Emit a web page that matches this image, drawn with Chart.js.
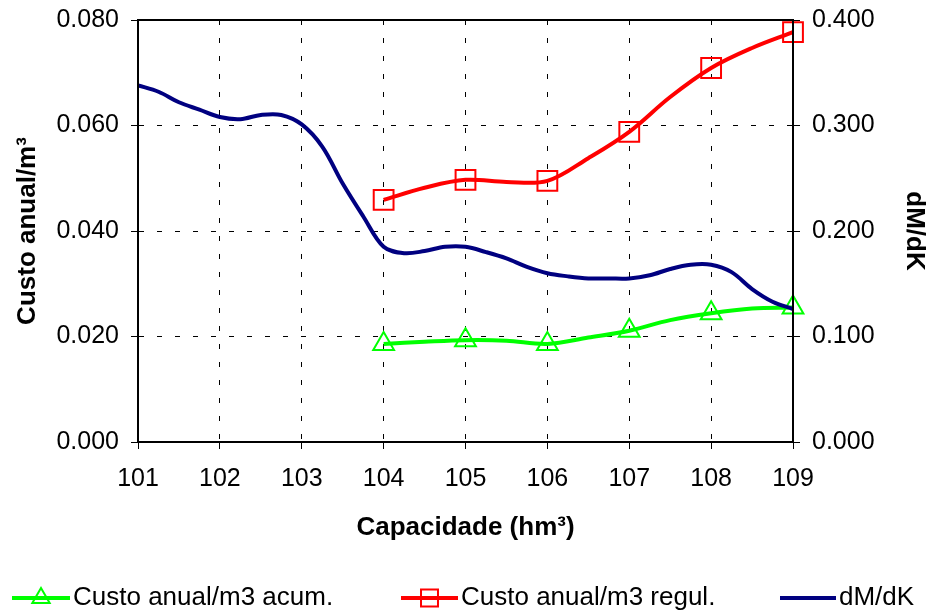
<!DOCTYPE html>
<html>
<head>
<meta charset="utf-8">
<script src="https://cdn.jsdelivr.net/npm/chart.js@4/dist/chart.umd.min.js"></script>
<style>
  html, body { margin: 0; padding: 0; background: #fff; }
  #wrap { width: 930px; height: 613px; }
</style>
</head>
<body>
<div id="wrap"><canvas id="chart" width="930" height="613"></canvas></div>
<script>
// chart data
const capAcum = [104, 104.5, 105, 105.5, 106, 106.5, 107, 107.5, 108, 108.5, 109];
const custoAcum = [0.0186, 0.0190, 0.0193, 0.0192, 0.0186, 0.0198, 0.0211, 0.0231, 0.0244, 0.0253, 0.0255];

const capRegul = [104, 104.5, 105, 105.5, 106, 106.5, 107, 107.5, 108, 108.5, 109];
const custoRegul = [0.0459, 0.0482, 0.0497, 0.0493, 0.0495, 0.0538, 0.0588, 0.0654, 0.0709, 0.0747, 0.0777];

const capDmdk = [101, 101.25, 101.5, 101.75, 102, 102.25, 102.5, 102.75, 103, 103.25, 103.5, 103.75,
                 104, 104.25, 104.5, 104.75, 105, 105.25, 105.5, 105.75, 106, 106.25, 106.5, 106.75,
                 107, 107.25, 107.5, 107.75, 108, 108.25, 108.5, 108.75, 109];
const dmdk = [0.338, 0.332, 0.322, 0.315, 0.308, 0.306, 0.310, 0.310, 0.301, 0.280, 0.245, 0.214,
              0.185, 0.179, 0.181, 0.185, 0.185, 0.180, 0.174, 0.166, 0.160, 0.157, 0.155, 0.155,
              0.155, 0.158, 0.164, 0.168, 0.168, 0.161, 0.145, 0.133, 0.126];

const labels = ['Custo anual/m3 acum.', 'Custo anual/m3 regul.', 'dM/dK'];
const colors = ['#00ff00', '#ff0000', '#000080'];
const markers = ['triangle', 'rect', false];

const xTicks = [101, 102, 103, 104, 105, 106, 107, 108, 109];
const leftTicks = [0, 0.02, 0.04, 0.06, 0.08];
const rightTicks = [0, 0.1, 0.2, 0.3, 0.4];

const FONT = "'Liberation Sans', Arial, sans-serif";
Chart.defaults.font.family = FONT;
Chart.defaults.color = '#000';

function toPoints(xs, ys) {
    return xs.map((x, i) => ({ x: x, y: ys[i] }));
}

// marker only on whole capacities
function markerRadius(xs, r) {
    return ctx => Number.isInteger(xs[ctx.dataIndex]) ? r : 0;
}

// fixed axis box sizes so the plot area sits where it does in the picture
function fixBox(w, h) {
    return s => {
        if (w !== null) s.width = w;
        if (h !== null) s.height = h;
        s.paddingTop = 0;
        s.paddingBottom = 0;
        s.paddingLeft = 0;
        s.paddingRight = 0;
    };
}

// Excel style legend: line with marker in the middle
const lineLegend = {
    id: 'lineLegend',
    afterDraw(chart) {
        const ctx = chart.ctx;
        const y = 598;
        const items = [
            { x: 12, w: 58 },
            { x: 401, w: 57 },
            { x: 780, w: 56 }
        ];
        ctx.save();
        ctx.font = '26px ' + FONT;
        ctx.textBaseline = 'middle';
        ctx.textAlign = 'left';
        items.forEach((it, i) => {
            ctx.strokeStyle = colors[i];
            ctx.lineWidth = 4;
            ctx.beginPath();
            ctx.moveTo(it.x, y);
            ctx.lineTo(it.x + it.w, y);
            ctx.stroke();
            if (markers[i]) {
                ctx.fillStyle = 'rgba(0,0,0,0)';
                ctx.lineWidth = 2;
                Chart.helpers.drawPoint(ctx, {
                    pointStyle: markers[i],
                    radius: markers[i] === 'rect' ? 12 : 10,
                    borderWidth: 2,
                    rotation: 0
                }, it.x + it.w / 2, y);
            }
            ctx.fillStyle = '#000';
            ctx.fillText(labels[i], it.x + it.w + 3, y);
        });
        ctx.restore();
    }
};

// frame round the plot area (top side has no axis)
const plotFrame = {
    id: 'plotFrame',
    afterDraw(chart) {
        const a = chart.chartArea;
        const ctx = chart.ctx;
        ctx.save();
        ctx.strokeStyle = '#000';
        ctx.lineWidth = 2;
        ctx.strokeRect(a.left, a.top, a.right - a.left, a.bottom - a.top);
        ctx.restore();
    }
};

const ctx = document.getElementById('chart').getContext('2d');
const chart = new Chart(ctx, {
    type: 'line',
    data: {
        datasets: [{
            label: labels[0],
            data: toPoints(capAcum, custoAcum),
            yAxisID: 'y',
            borderColor: colors[0],
            backgroundColor: 'rgba(0,0,0,0)',
            borderWidth: 4,
            pointStyle: 'triangle',
            pointRadius: markerRadius(capAcum, 12),
            pointBorderWidth: 2,
            pointBorderColor: colors[0],
            pointBackgroundColor: 'rgba(0,0,0,0)',
            tension: 0.35,
            clip: false,
            order: 1
        }, {
            label: labels[1],
            data: toPoints(capRegul, custoRegul),
            yAxisID: 'y',
            borderColor: colors[1],
            backgroundColor: 'rgba(0,0,0,0)',
            borderWidth: 4,
            pointStyle: 'rect',
            pointRadius: markerRadius(capRegul, 14),
            pointBorderWidth: 2,
            pointBorderColor: colors[1],
            pointBackgroundColor: 'rgba(0,0,0,0)',
            tension: 0.35,
            clip: false,
            order: 2
        }, {
            label: labels[2],
            data: toPoints(capDmdk, dmdk),
            yAxisID: 'y2',
            borderColor: colors[2],
            borderWidth: 4,
            pointRadius: 0,
            tension: 0.35,
            order: 0
        }]
    },
    options: {
        responsive: false,
        animation: false,
        layout: { padding: { top: 20, left: 0, right: 0, bottom: 0 } },
        plugins: {
            legend: { display: false },
            tooltip: { enabled: false }
        },
        scales: {
            x: {
                type: 'linear',
                min: 101,
                max: 109,
                afterBuildTicks: s => { s.ticks = xTicks.map(v => ({ value: v })); },
                afterFit: fixBox(null, 171),
                ticks: {
                    font: { size: 25 },
                    padding: 15,
                    maxRotation: 0,
                    callback: v => String(v)
                },
                grid: { color: '#000', lineWidth: 1, tickLength: 7, tickColor: '#000', tickBorderDash: [] },
                border: { color: '#000', width: 2, dash: [5, 13] },
                title: {
                    display: true,
                    text: 'Capacidade (hm³)',
                    font: { size: 26, weight: 'bold' },
                    padding: { top: 0, bottom: 70 }
                }
            },
            y: {
                position: 'left',
                min: 0,
                max: 0.08,
                afterBuildTicks: s => { s.ticks = leftTicks.map(v => ({ value: v })); },
                afterFit: fixBox(138, null),
                ticks: {
                    font: { size: 25 },
                    padding: 12,
                    callback: v => v.toFixed(3)
                },
                grid: { color: '#000', lineWidth: 1, tickLength: 7, tickColor: '#000', tickBorderDash: [] },
                border: { color: '#000', width: 2, dash: [5, 13] },
                title: {
                    display: true,
                    text: 'Custo anual/m³',
                    font: { size: 26, weight: 'bold' },
                    padding: { top: 12, bottom: 0 }
                }
            },
            y2: {
                position: 'right',
                min: 0,
                max: 0.4,
                afterBuildTicks: s => { s.ticks = rightTicks.map(v => ({ value: v })); },
                afterFit: fixBox(137, null),
                ticks: {
                    font: { size: 25 },
                    padding: 12,
                    callback: v => v.toFixed(3)
                },
                grid: { drawOnChartArea: false, tickLength: 7, tickColor: '#000', tickBorderDash: [] },
                border: { color: '#000', width: 2 },
                title: {
                    display: true,
                    text: 'dM/dK',
                    font: { size: 26, weight: 'bold' },
                    padding: { top: 0, bottom: 0 }
                }
            }
        }
    },
    plugins: [plotFrame, lineLegend]
});
</script>
</body>
</html>
